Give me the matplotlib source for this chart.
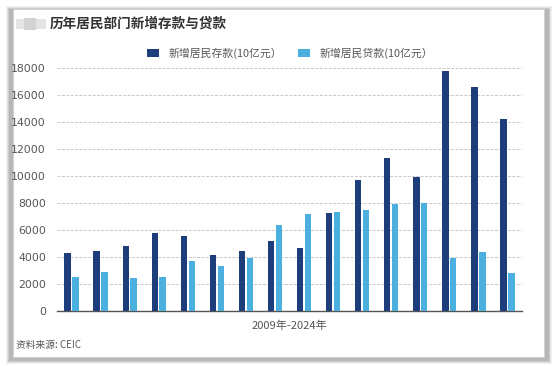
import matplotlib
matplotlib.use("Agg")
import matplotlib.pyplot as plt
from matplotlib.patches import Rectangle
import numpy as np

plt.rcParams['font.family'] = ['Noto Sans CJK SC', 'DejaVu Sans']

years = [str(y) for y in range(2009, 2025)]
deposits = [4320, 4420, 4790, 5750, 5540, 4170, 4420, 5170, 4650, 7240, 9700, 11310, 9900, 17810, 16620, 14230]
loans = [2500, 2920, 2450, 2550, 3720, 3320, 3920, 6390, 7190, 7360, 7480, 7930, 7980, 3900, 4400, 2790]
yticks = list(range(0, 18001, 2000))

W, H = 556, 366
fig = plt.figure(figsize=(W/100, H/100), dpi=100)
fig.patch.set_facecolor('white')

def fx(x): return x / W
def fy(y): return 1 - y / H

# shadow layers
for i, a in enumerate([0.10, 0.14, 0.2, 0.28]):
    d = 4 - i
    fig.patches.append(Rectangle((fx(12 - d - 2), fy(360 + d)), fx(536 + 2*d + 2), (350 + 2*d) / H,
                                 transform=fig.transFigure, facecolor='#808080', alpha=a,
                                 edgecolor='none', zorder=0))
fig.patches.append(Rectangle((fx(13), fy(357)), fx(531), 348 / H, transform=fig.transFigure,
                             facecolor='white', edgecolor='#d0d0d0', linewidth=0.6, zorder=1))
# blurred logo
fig.patches.append(Rectangle((fx(16), fy(29)), fx(30), 10 / H, transform=fig.transFigure,
                             facecolor='#e4e4e4', edgecolor='none', zorder=2))
fig.patches.append(Rectangle((fx(24), fy(30)), fx(12), 12 / H, transform=fig.transFigure,
                             facecolor='#d2d2d2', edgecolor='none', zorder=2))

fig.text(fx(50), fy(24), '历年居民部门新增存款与贷款', fontsize=9.8, fontweight='bold',
         color='#333333', va='center', ha='left', zorder=3)

ax = fig.add_axes([fx(57), fy(311), fx(522 - 57), (311 - 68) / H])
ax.set_facecolor('none')
ax.set_zorder(3)
x = np.arange(len(years))
bw = 0.22
dark = '#1e3d7b'
light = '#4bb0df'
ax.bar(x - 0.135, deposits, width=bw, color=dark, label='新增居民存款(10亿元）', zorder=3)
ax.bar(x + 0.135, loans, width=bw, color=light, label='新增居民贷款(10亿元）', zorder=3)
ax.set_xlim(-0.5, len(years) - 0.5)
ax.set_ylim(0, 18000)
ax.set_yticks(yticks)
ax.set_yticklabels([str(v) for v in yticks], fontsize=7.8, color='#555555', family='DejaVu Sans')
ax.set_xticks([])
ax.tick_params(axis='y', length=0, pad=8)
for s in ['top', 'right', 'left']:
    ax.spines[s].set_visible(False)
ax.spines['bottom'].set_color('#555555')
ax.spines['bottom'].set_linewidth(1.0)
ax.yaxis.grid(True, linestyle=(0, (3, 1.5)), color='#c8c8c8', linewidth=0.7, zorder=0)
ax.set_axisbelow(True)
ax.set_xlabel('2009年-2024年', fontsize=8, color='#555555', labelpad=7)

leg = fig.legend(loc='center', bbox_to_anchor=(fx(290), fy(53)), ncol=2, frameon=False,
                 fontsize=7.8, handlelength=1.1, handleheight=0.8, columnspacing=1.5,
                 handletextpad=0.9)
for t in leg.get_texts():
    t.set_color('#555555')

fig.text(fx(16), fy(345), '资料来源: CEIC', fontsize=7, style='italic', color='#555555',
         va='center', ha='left', zorder=3)

fig.savefig('out.png', dpi=100)
